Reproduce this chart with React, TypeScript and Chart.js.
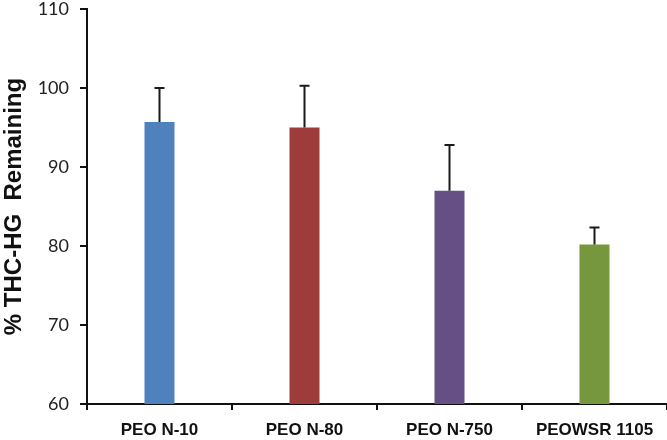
import React, { useEffect, useRef } from "react";
import { Chart, registerables } from "chart.js";

Chart.register(...registerables);

const categories = ["PEO N-10", "PEO N-80", "PEO N-750", "PEOWSR 1105"];
const values = [95.7, 95.0, 87.0, 80.2];
const upperErrors = [4.3, 5.3, 5.8, 2.15];
const barColors = ["#4F81BD", "#9E3B3B", "#664F85", "#77973E"];
const yTitle = "% THC-HG  Remaining";
const yMin = 60;
const yMax = 110;
const yStep = 10;

const errorBarPlugin = {
  id: "errorBars",
  afterDatasetsDraw(chart: any) {
    const ctx = chart.ctx;
    const meta = chart.getDatasetMeta(0);
    const yScale = chart.scales.y;
    ctx.save();
    ctx.strokeStyle = "#1a1a1a";
    ctx.lineWidth = 2;
    meta.data.forEach((bar: any, i: number) => {
      const x = bar.x;
      const yTop = yScale.getPixelForValue(values[i]);
      const yErr = yScale.getPixelForValue(values[i] + upperErrors[i]);
      ctx.beginPath();
      ctx.moveTo(x, yTop);
      ctx.lineTo(x, yErr);
      ctx.moveTo(x - 5, yErr);
      ctx.lineTo(x + 5, yErr);
      ctx.stroke();
    });
    ctx.restore();
  },
};

export default function App() {
  const canvasRef = useRef<HTMLCanvasElement | null>(null);

  useEffect(() => {
    document.body.style.margin = "0";
    const canvas = canvasRef.current;
    if (!canvas) return;
    const chart = new Chart(canvas, {
      type: "bar",
      data: {
        labels: categories,
        datasets: [
          {
            data: values,
            backgroundColor: barColors,
            borderWidth: 0,
            barPercentage: 0.207,
            categoryPercentage: 1,
          },
        ],
      },
      options: {
        responsive: false,
        animation: false,
        maintainAspectRatio: false,
        layout: { padding: { left: 0, right: 0, top: 0, bottom: 0 } },
        plugins: {
          legend: { display: false },
          tooltip: { enabled: false },
        },
        scales: {
          x: {
            offset: true,
            grid: {
              offset: true,
              drawOnChartArea: false,
              drawTicks: true,
              tickLength: 6,
              color: "#111",
              lineWidth: 2,
            },
            border: { display: true, color: "#111", width: 2 },
            ticks: {
              color: "#111",
              padding: 10,
              maxRotation: 0,
              autoSkip: false,
              font: { family: "Arial, 'Liberation Sans'", size: 17, weight: "bold" },
            },
            afterFit(scale: any) {
              scale.height = 36;
            },
          },
          y: {
            min: yMin,
            max: yMax,
            ticks: {
              stepSize: yStep,
              color: "#222",
              padding: 11,
              font: { family: "Lato, 'Open Sans', sans-serif", size: 18 },
            },
            grid: {
              drawOnChartArea: false,
              drawTicks: true,
              tickLength: 7,
              color: "#111",
              lineWidth: 2,
            },
            border: { display: true, color: "#111", width: 2 },
            title: {
              display: true,
              text: yTitle,
              color: "#111",
              padding: { top: 0, bottom: 0 },
              font: { family: "Arial, 'Liberation Sans'", size: 24, weight: "bold" },
            },
            afterFit(scale: any) {
              scale.width = 87;
              scale.paddingTop = 9;
            },
          },
        },
      },
      plugins: [errorBarPlugin],
    } as any);
    return () => chart.destroy();
  }, []);

  return (
    <div style={{ width: 667, height: 440 }}>
      <canvas ref={canvasRef} width={667} height={440} style={{ display: "block" }} />
    </div>
  );
}
